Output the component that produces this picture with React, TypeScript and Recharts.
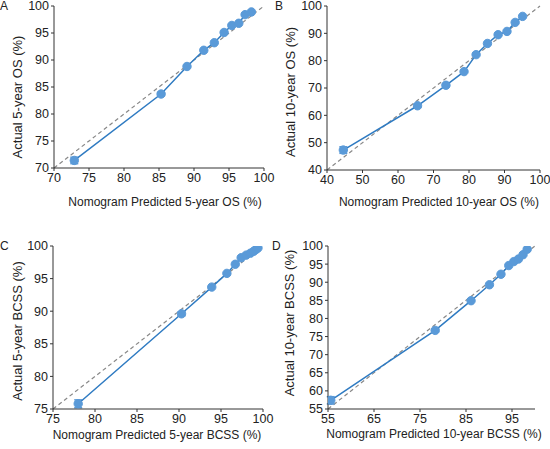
import { LineChart, Line, XAxis, YAxis, ReferenceLine, ErrorBar } from "recharts";

// Panel A: 5-year OS
const aPred = [72.9, 85.3, 89.0, 91.4, 92.9, 94.3, 95.4, 96.4, 97.3, 98.2];
const aActual = [71.4, 83.7, 88.8, 91.8, 93.2, 95.1, 96.4, 96.8, 98.4, 98.9];
const aErr = [0.6, 0.3, 0, 0, 0, 0, 0, 0, 0, 0];
const aTicks = [70, 75, 80, 85, 90, 95, 100];

// Panel B: 10-year OS
const bPred = [44.6, 65.5, 73.5, 78.6, 82.0, 85.2, 88.2, 90.7, 93.0, 95.1];
const bActual = [47.3, 63.5, 71.0, 76.0, 82.2, 86.3, 89.5, 90.7, 94.0, 96.2];
const bErr = [1.2, 0.6, 0.4, 0, 0, 0, 0, 0, 0, 0];
const bTicks = [40, 50, 60, 70, 80, 90, 100];

// Panel C: 5-year BCSS
const cPred = [78.0, 90.3, 93.9, 95.7, 96.7, 97.4, 98.0, 98.5, 98.9, 99.2, 99.4];
const cActual = [75.8, 89.6, 93.7, 95.8, 97.2, 98.2, 98.6, 98.9, 99.2, 99.5, 99.7];
const cErr = [0.6, 0.3, 0, 0, 0, 0, 0, 0, 0, 0, 0];
const cTicks = [75, 80, 85, 90, 95, 100];

// Panel D: 10-year BCSS
const dPred = [55.6, 78.3, 86.1, 90.1, 92.6, 94.3, 95.4, 96.4, 97.4, 98.3];
const dActual = [57.4, 76.7, 84.9, 89.3, 92.2, 94.6, 95.7, 96.4, 97.6, 99.1];
const dErr = [1.0, 0.4, 0, 0, 0, 0, 0, 0, 0, 0];
const dXTicks = [55, 65, 75, 85, 95];
const dYTicks = [55, 60, 65, 70, 75, 80, 85, 90, 95, 100];

const FONT = "'Liberation Sans', Arial, sans-serif";
const LINE = "#2f7bc2";
const DOT = "#5a9ad8";
const AXIS = "#333";
const TEXT = "#222";

function build(xs: number[], ys: number[], errs: number[]) {
  return xs.map((x, i) => ({ x, y: ys[i], err: errs[i] }));
}

type PanelProps = {
  left: number;
  top: number;
  width: number;
  height: number;
  margin: { top: number; right: number; bottom: number; left: number };
  yWidth: number;
  xHeight: number;
  domain: [number, number];
  xTicks: number[];
  yTicks: number[];
  data: { x: number; y: number; err: number }[];
  xLabel: string;
  yLabel: string;
  xLabelPos: [number, number]; // centre of the x title, chart coords
  yLabelPos: [number, number]; // centre of the y title, chart coords
};

function Panel(p: PanelProps) {
  const [xlx, xly] = p.xLabelPos;
  const [ylx, yly] = p.yLabelPos;
  return (
    <div style={{ position: "absolute", left: p.left, top: p.top }}>
      <LineChart width={p.width} height={p.height} data={p.data} margin={p.margin}>
        <XAxis
          dataKey="x"
          type="number"
          domain={p.domain}
          ticks={p.xTicks}
          interval={0}
          allowDataOverflow
          height={p.xHeight}
          stroke={AXIS}
          tickSize={3}
          tick={{ fill: TEXT, fontSize: 12.5, fontFamily: FONT }}
          label={{
            content: () => (
              <text
                x={xlx}
                y={xly}
                textAnchor="middle"
                dominantBaseline="central"
                fill={TEXT}
                fontSize={12}
                fontFamily={FONT}
              >
                {p.xLabel}
              </text>
            ),
          }}
        />
        <YAxis
          dataKey="y"
          type="number"
          domain={p.domain}
          ticks={p.yTicks}
          interval={0}
          allowDataOverflow
          width={p.yWidth}
          stroke={AXIS}
          tickSize={3}
          tick={{ fill: TEXT, fontSize: 12.5, fontFamily: FONT }}
          label={{
            content: () => (
              <text
                x={ylx}
                y={yly}
                transform={`rotate(-90, ${ylx}, ${yly})`}
                textAnchor="middle"
                dominantBaseline="central"
                fill={TEXT}
                fontSize={13}
                fontFamily={FONT}
              >
                {p.yLabel}
              </text>
            ),
          }}
        />
        <ReferenceLine
          segment={[
            { x: p.domain[0], y: p.domain[0] },
            { x: p.domain[1], y: p.domain[1] },
          ]}
          stroke="#888"
          strokeWidth={1.2}
          strokeDasharray="4 3"
        />
        <Line
          dataKey="y"
          stroke={LINE}
          strokeWidth={1.5}
          dot={{ r: 4.2, fill: DOT, stroke: DOT, strokeWidth: 1 }}
          isAnimationActive={false}
        >
          <ErrorBar dataKey="err" direction="y" width={4} stroke={DOT} strokeWidth={1.5} />
        </Line>
      </LineChart>
    </div>
  );
}

const letterStyle: React.CSSProperties = {
  position: "absolute",
  fontFamily: FONT,
  fontSize: 12,
  color: TEXT,
  lineHeight: "12px",
};

export default function App() {
  return (
    <div style={{ position: "absolute", left: 0, top: 0, width: 550, height: 449, background: "#fff" }}>
      <Panel
        left={0}
        top={0}
        width={275}
        height={225}
        margin={{ top: 6, right: 11, bottom: 17, left: 0 }}
        yWidth={54}
        xHeight={40}
        domain={[70, 100]}
        xTicks={aTicks}
        yTicks={aTicks}
        data={build(aPred, aActual, aErr)}
        xLabel="Nomogram Predicted 5-year OS (%)"
        yLabel="Actual 5-year OS (%)"
        xLabelPos={[165, 202]}
        yLabelPos={[17, 97]}
      />
      <Panel
        left={275}
        top={0}
        width={275}
        height={225}
        margin={{ top: 6, right: 10, bottom: 15, left: 0 }}
        yWidth={52}
        xHeight={40}
        domain={[40, 100]}
        xTicks={bTicks}
        yTicks={bTicks}
        data={build(bPred, bActual, bErr)}
        xLabel="Nomogram Predicted 10-year OS (%)"
        yLabel="Actual 10-year OS (%)"
        xLabelPos={[164, 202]}
        yLabelPos={[15, 92]}
      />
      <Panel
        left={0}
        top={225}
        width={275}
        height={224}
        margin={{ top: 21, right: 12, bottom: 6, left: 0 }}
        yWidth={53}
        xHeight={34}
        domain={[75, 100]}
        xTicks={cTicks}
        yTicks={cTicks}
        data={build(cPred, cActual, cErr)}
        xLabel="Nomogram Predicted 5-year BCSS (%)"
        yLabel="Actual 5-year BCSS (%)"
        xLabelPos={[157, 210]}
        yLabelPos={[17, 106]}
      />
      <Panel
        left={275}
        top={225}
        width={275}
        height={224}
        margin={{ top: 21, right: 15, bottom: 6, left: 0 }}
        yWidth={53}
        xHeight={34}
        domain={[55, 100]}
        xTicks={dXTicks}
        yTicks={dYTicks}
        data={build(dPred, dActual, dErr)}
        xLabel="Nomogram Predicted 10-year BCSS (%)"
        yLabel="Actual 10-year BCSS (%)"
        xLabelPos={[159, 209]}
        yLabelPos={[14, 98]}
      />
      <div style={{ ...letterStyle, left: 0, top: 0 }}>A</div>
      <div style={{ ...letterStyle, left: 275, top: 0 }}>B</div>
      <div style={{ ...letterStyle, left: 0, top: 240 }}>C</div>
      <div style={{ ...letterStyle, left: 272, top: 240 }}>D</div>
    </div>
  );
}
